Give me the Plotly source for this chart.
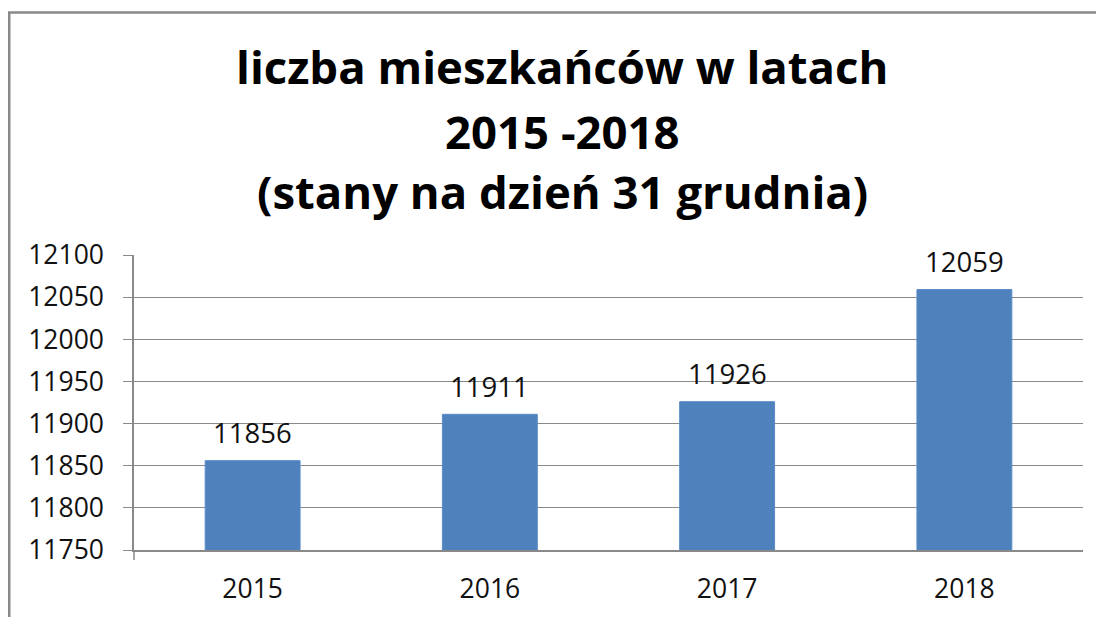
import plotly.graph_objects as go

years = ["2015", "2016", "2017", "2018"]
residents = [11856, 11911, 11926, 12059]
title_lines = ["liczba mieszkańców w latach", "2015 -2018", "(stany na dzień 31 grudnia)"]

W, H = 1104, 617
OFF = 8  # page body margin offset in the browser
# plot area in screen pixels: x 134..1083, y 255..550
L, T = 134 - OFF, 255 - OFF
R = W - (1083 - OFF)
B = H - (550 - OFF)
pw, ph = W - L - R, H - T - B

def px_x(x):
    return (x - OFF - L) / pw

def px_y(y):
    return (H - B - (y - OFF)) / ph

FONT = "Open Sans"

fig = go.Figure()
fig.add_trace(go.Bar(
    x=years, y=residents, width=0.4,
    marker=dict(color="#4F81BD", line=dict(color="#5B8CC8", width=1)),
    hoverinfo="x+y",
))

annotations = []
for i, v in enumerate(residents):
    annotations.append(dict(
        x=i, y=v, xref="x", yref="y", text=str(v), showarrow=False,
        yanchor="middle", yshift=28, font=dict(family=FONT, size=27.5, color="#111111"),
    ))

title_y = [66, 131, 191]
for txt, yy in zip(title_lines, title_y):
    annotations.append(dict(
        x=px_x(562), y=px_y(yy), xref="paper", yref="paper", text="<b>" + txt + "</b>",
        showarrow=False, xanchor="center", yanchor="middle",
        font=dict(family=FONT, size=45.5, color="#000000"),
    ))

shapes = [
    dict(type="line", xref="paper", yref="paper", x0=px_x(9), x1=px_x(9), y0=px_y(12), y1=px_y(640),
         line=dict(color="#898989", width=3)),
    dict(type="line", xref="paper", yref="paper", x0=px_x(8), x1=px_x(1120), y0=px_y(12.5), y1=px_y(12.5),
         line=dict(color="#898989", width=2.5)),
    dict(type="line", xref="paper", yref="paper", x0=0, x1=0, y0=px_y(560), y1=0,
         line=dict(color="#898989", width=1.5)),
]

fig.update_layout(
    width=W, height=H,
    margin=dict(l=L, r=R, t=T, b=B),
    paper_bgcolor="white", plot_bgcolor="white",
    showlegend=False,
    annotations=annotations,
    shapes=shapes,
    font=dict(family=FONT, color="#111111"),
)
fig.update_yaxes(
    range=[11750, 12100], dtick=50, tick0=11750, tickformat="d",
    showgrid=True, gridcolor="#898989", gridwidth=1.2,
    showline=True, linecolor="#898989", linewidth=1.5,
    ticks="outside", ticklen=9, tickcolor="#898989", tickwidth=1.2,
    tickfont=dict(family=FONT, size=26.5, color="#111111"),
    ticklabelstandoff=14,
    zeroline=False, fixedrange=True,
)
fig.update_xaxes(
    type="category", range=[-0.5, 3.5],
    showline=True, linecolor="#898989", linewidth=1.5,
    ticks="", tickfont=dict(family=FONT, size=26.5, color="#111111"),
    ticklabelstandoff=14, fixedrange=True,
)

fig.write_html("out.html")
